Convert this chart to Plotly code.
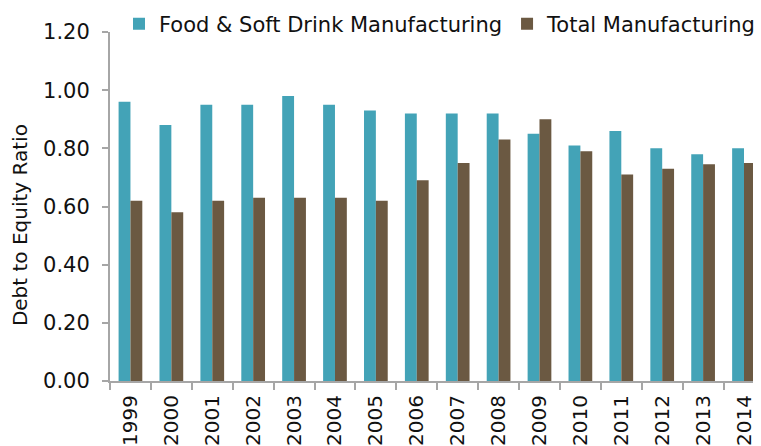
import plotly.graph_objects as go

years = ["1999", "2000", "2001", "2002", "2003", "2004", "2005", "2006",
         "2007", "2008", "2009", "2010", "2011", "2012", "2013", "2014"]
food_soft_drink = [0.96, 0.88, 0.95, 0.95, 0.98, 0.95, 0.93, 0.92,
                   0.92, 0.92, 0.85, 0.81, 0.86, 0.80, 0.78, 0.80]
total_manufacturing = [0.62, 0.58, 0.62, 0.63, 0.63, 0.63, 0.62, 0.69,
                       0.75, 0.83, 0.90, 0.79, 0.71, 0.73, 0.745, 0.75]
y_ticks = [0.0, 0.2, 0.4, 0.6, 0.8, 1.0, 1.2]

TEAL = "#43A3B7"
BROWN = "#6B5942"
AXIS = "#A6A6A6"
FONT = "DejaVu Sans"

fig = go.Figure()
fig.add_trace(go.Bar(x=years, y=food_soft_drink, name="Food & Soft Drink Manufacturing",
                     marker=dict(color=TEAL, line=dict(width=0))))
fig.add_trace(go.Bar(x=years, y=total_manufacturing, name="Total Manufacturing",
                     marker=dict(color=BROWN, line=dict(width=0))))

fig.update_layout(
    width=761, height=446,
    margin=dict(l=110, r=0, t=32, b=65),
    paper_bgcolor="white", plot_bgcolor="white",
    barmode="group", bargap=0.42, bargroupgap=0,
    font=dict(family=FONT, size=20, color="#111111"),
    showlegend=True,
    legend=dict(orientation="h", x=0.014, xanchor="left",
                y=(381 - 24) / 349, yanchor="middle",
                font=dict(size=21), bgcolor="rgba(0,0,0,0)", itemwidth=30,
                traceorder="normal"),
    xaxis=dict(type="category", range=[-0.5, 15.22], showgrid=False,
               showline=True, linecolor=AXIS, linewidth=2,
               ticks="outside", tickson="boundaries", ticklen=7, tickwidth=2,
               tickcolor=AXIS, tickangle=-90, automargin=False,
               ticklabelstandoff=4, tickfont=dict(size=20)),
    yaxis=dict(range=[0, 1.2], tickvals=y_ticks, tickformat=".2f", showgrid=False,
               showline=True, linecolor=AXIS, linewidth=2, zeroline=False,
               ticks="outside", ticklen=6, tickwidth=2, tickcolor=AXIS,
               automargin=False, ticklabelstandoff=8, tickfont=dict(size=21)),
    annotations=[dict(text="Debt to Equity Ratio", textangle=-90, showarrow=False,
                      xref="paper", yref="paper", x=-(110 - 19) / 651, y=(381 - 225) / 349,
                      xanchor="center", yanchor="middle", font=dict(size=20))],
)

fig.write_html("out.html")
